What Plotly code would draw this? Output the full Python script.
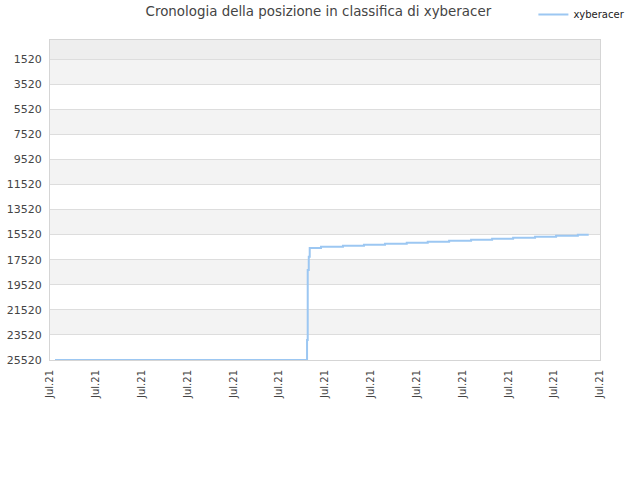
import plotly.graph_objects as go

title = "Cronologia della posizione in classifica di xyberacer"
series_name = "xyberacer"

dates = [
    "2021-07-01 02:37", "2021-07-06 14:36", "2021-07-06 14:57", "2021-07-06 15:30",
    "2021-07-06 16:00", "2021-07-06 21:54", "2021-07-07 09:24", "2021-07-07 20:24",
    "2021-07-08 07:24", "2021-07-08 18:48", "2021-07-09 05:48", "2021-07-09 17:00",
    "2021-07-10 04:30", "2021-07-10 15:30", "2021-07-11 02:30", "2021-07-11 14:00",
    "2021-07-12 01:00", "2021-07-12 12:24", "2021-07-12 18:06",
]
ranks = [
    25520, 23924, 18343, 17283,
    16589, 16486, 16406, 16326,
    16247, 16167, 16087, 16007,
    15928, 15848, 15768, 15688,
    15609, 15529, 15529,
]

y_ticks = [1520, 3520, 5520, 7520, 9520, 11520, 13520, 15520, 17520, 19520, 21520, 23520, 25520]
y_labels = [str(v) for v in y_ticks]
x_ticks = ["2021-07-%02d" % d for d in range(1, 14)]
x_labels = ["Jul.21"] * len(x_ticks)

fig = go.Figure()
fig.add_trace(go.Scatter(
    x=dates, y=ranks, mode="lines", name=series_name,
    line=dict(color="#9cc7f2", width=2, shape="hv"),
))

shapes = []
shapes.append(dict(type="rect", xref="paper", yref="y", x0=0, x1=1, y0=0, y1=y_ticks[0],
                   fillcolor="#eeeeee", line=dict(width=0), layer="below"))
for i in range(0, len(y_ticks) - 1, 2):
    shapes.append(dict(type="rect", xref="paper", yref="y", x0=0, x1=1,
                       y0=y_ticks[i], y1=y_ticks[i + 1],
                       fillcolor="#f3f3f3", line=dict(width=0), layer="below"))

fig.update_layout(
    width=640, height=480,
    margin=dict(l=50, r=40, t=40, b=120, autoexpand=False),
    paper_bgcolor="white", plot_bgcolor="white",
    font=dict(family="DejaVu Sans", size=11, color="#444444"),
    title=dict(text=title, x=0.488, xanchor="center", xref="paper", y=0.976, yref="container",
               yanchor="middle", font=dict(size=13.4, color="#444444")),
    showlegend=True,
    legend=dict(x=0.985, xref="container", xanchor="right", y=1.0, yref="container", yanchor="top",
                font=dict(size=10, color="#222222"), bgcolor="rgba(0,0,0,0)",
                itemwidth=30),
    shapes=shapes,
    xaxis=dict(
        type="date", range=["2021-07-01", "2021-07-13"], automargin=False,
        tickmode="array", tickvals=x_ticks, ticktext=x_labels, tickangle=-90,
        ticklabelstandoff=5,
        showgrid=False, showline=True, linecolor="#d5d5d5", mirror=True,
        ticks="", tickfont=dict(size=10, color="#444444"), zeroline=False,
    ),
    yaxis=dict(
        range=[25520, 0], tickmode="array", tickvals=y_ticks, ticktext=y_labels,
        automargin=False, ticklabelstandoff=5,
        showgrid=True, gridcolor="#dddddd", gridwidth=1,
        showline=True, linecolor="#d5d5d5", mirror=True,
        ticks="", tickfont=dict(size=11, color="#444444"), zeroline=False,
    ),
)

fig.write_html("out.html", config={"displayModeBar": False},
               post_script="document.body.style.margin='0';")
